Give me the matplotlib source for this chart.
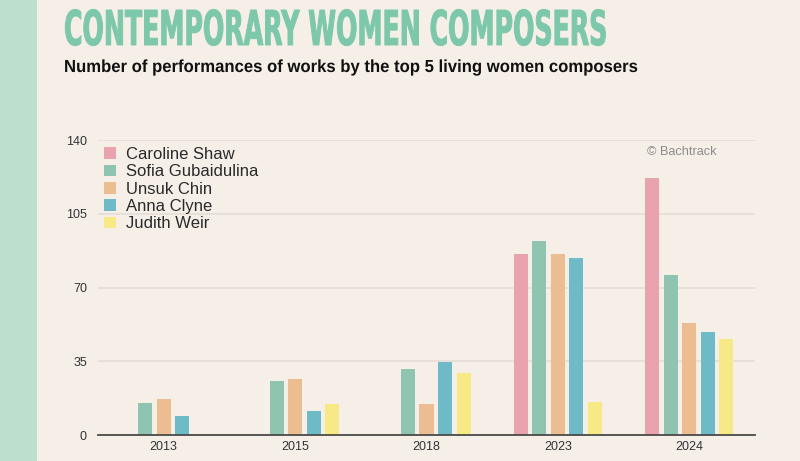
import matplotlib
matplotlib.use('Agg')
import matplotlib.pyplot as plt
import numpy as np
from matplotlib.patches import Patch, Rectangle
from matplotlib import patheffects
from matplotlib.transforms import Affine2D

# ---- data ----
years = ['2013', '2015', '2018', '2023', '2024']
composers = ['Caroline Shaw', 'Sofia Gubaidulina', 'Unsuk Chin', 'Anna Clyne', 'Judith Weir']
caroline_shaw = [0, 0, 0, 86, 122]
sofia_gubaidulina = [15, 25.5, 31.5, 92, 76]
unsuk_chin = [17, 26.5, 14.5, 86, 53]
anna_clyne = [9, 11.5, 34.5, 84, 49]
judith_weir = [0, 14.5, 29.5, 15.5, 45.5]
yticks = [0, 35, 70, 105, 140]

series = [caroline_shaw, sofia_gubaidulina, unsuk_chin, anna_clyne, judith_weir]
colors = ['#e8a3ae', '#8fc4b0', '#ebbd90', '#6fbac7', '#f7e985']

W, H = 800, 461
BG = '#f5efe8'
fig = plt.figure(figsize=(W / 100, H / 100), dpi=100, facecolor=BG)
fig.add_artist(Rectangle((0, 0), 37 / W, 1, transform=fig.transFigure,
                         facecolor='#bddfce', edgecolor='none', zorder=0))

ax = fig.add_axes([98 / W, (H - 435) / H, (755 - 98) / W, (435 - 140) / H])
ax.set_facecolor('none')

x = np.arange(len(years))
step = 0.141
width = 0.107
for i, (vals, c) in enumerate(zip(series, colors)):
    ax.bar(x + (i - 2) * step, vals, width=width, color=c, zorder=2)

ax.set_xlim(-0.5, len(years) - 0.5)
ax.set_ylim(0, 140)
ax.set_yticks(yticks)
ax.set_yticklabels([str(v) for v in yticks])
ax.set_xticks(x)
ax.set_xticklabels(years)
ax.grid(axis='y', color='#e3ddd5', lw=1.2, zorder=0)
ax.set_axisbelow(True)
for s in ['top', 'right', 'left']:
    ax.spines[s].set_visible(False)
ax.spines['bottom'].set_color('#4a4a4a')
ax.spines['bottom'].set_linewidth(1.3)
ax.spines['bottom'].set_zorder(3)
ax.tick_params(axis='both', length=0, labelsize=9, labelcolor='#333333')
ax.tick_params(axis='y', pad=8)
ax.tick_params(axis='x', pad=4.5)
for lab in ax.get_xticklabels() + ax.get_yticklabels():
    lab.set_fontfamily('Liberation Sans')

# legend
handles = [Patch(facecolor=c, edgecolor='none') for c in colors]
leg = ax.legend(handles, composers, loc='upper left',
                bbox_to_anchor=(104 / W, (H - 147) / H), bbox_transform=fig.transFigure,
                frameon=False, prop={'family': 'Liberation Sans', 'size': 12},
                handlelength=0.72, handleheight=0.72, handletextpad=0.62,
                labelspacing=0.14, borderpad=0, borderaxespad=0)
for t in leg.get_texts():
    t.set_color('#2a2a2a')

fig.text(647 / W, (H - 152) / H, '\u00a9 Bachtrack', fontsize=9.2, color='#8c8c8c',
         family='Liberation Sans', ha='left', va='center')


class StretchY(patheffects.Stroke):
    def __init__(self, sy, y0, **kw):
        super().__init__(**kw)
        self.sy = sy
        self.y0 = y0

    def draw_path(self, renderer, gc, tpath, affine, rgbFace=None):
        t = affine + Affine2D().translate(0, -self.y0).scale(1, self.sy).translate(0, self.y0)
        gc0 = renderer.new_gc()
        gc0.copy_properties(gc)
        gc0 = self._update_gc(gc0, self._gc)
        renderer.draw_path(gc0, tpath, t, rgbFace)
        gc0.restore()


renderer = fig.canvas.get_renderer()

# title: fit width, then stretch vertically to cap height
TITLE_C = '#7dc8aa'
title_base = H - 45
title = fig.text(64 / W, title_base / H, 'CONTEMPORARY WOMEN COMPOSERS',
                 fontsize=20, family='DejaVu Sans', weight='bold', color=TITLE_C,
                 ha='left', va='baseline')
w = title.get_window_extent(renderer).width
fs = 20 * (606 - 64) / w
title.set_fontsize(fs)
cap = 0.729 * fs * 100 / 72
title.set_path_effects([StretchY(35 / cap, title_base, linewidth=0.7, foreground=TITLE_C)])

sub_base = H - 72
sub = fig.text(64 / W, sub_base / H,
               'Number of performances of works by the top 5 living women composers',
               fontsize=12, family='Liberation Sans', weight='bold', color='#111111',
               ha='left', va='baseline')
w = sub.get_window_extent(renderer).width
fs2 = 12 * (635 - 64) / w
sub.set_fontsize(fs2)
cap2 = 0.716 * fs2 * 100 / 72
sub.set_path_effects([StretchY(12.5 / cap2, sub_base, linewidth=0.0, foreground='#111111')])

fig.savefig('out.png', dpi=100, facecolor=BG)
